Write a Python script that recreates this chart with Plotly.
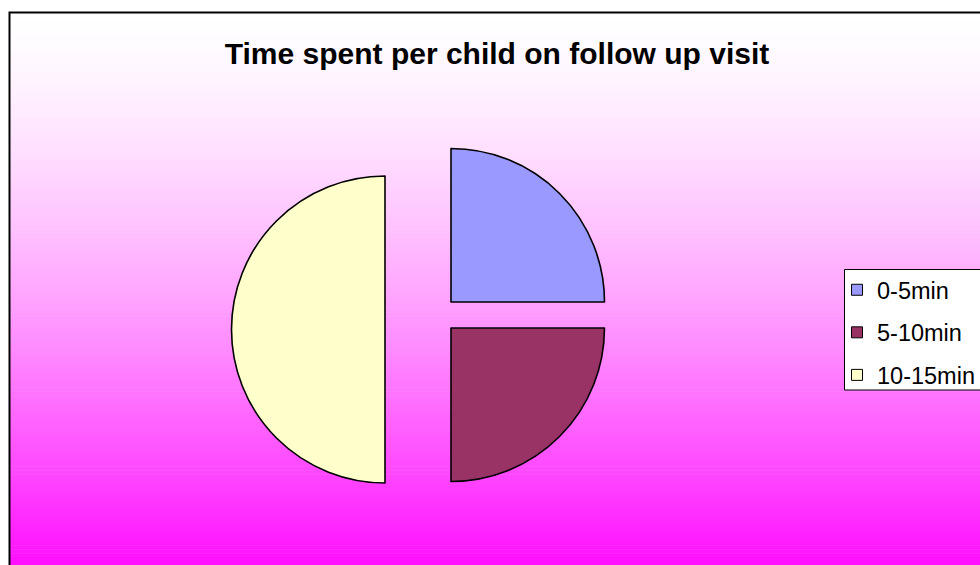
import plotly.graph_objects as go

# ---- data ----
labels = ["0-5min", "5-10min", "10-15min"]
values = [25, 25, 50]
colors = ["#9999FF", "#993366", "#FFFFCC"]
title_text = "Time spent per child on follow up visit"

# ---- layout geometry (pixels) ----
W, H = 980, 565
slice_centers = [(451, 302), (451, 328), (385, 329.5)]  # exploded slice centres
R = 153.5
FONT = "Liberation Sans, Arial, sans-serif"

fig = go.Figure()

# one pie per slice so each slice can be exploded independently
for i, (cx, cy) in enumerate(slice_centers):
    fills = [colors[j] if j == i else "rgba(0,0,0,0)" for j in range(len(labels))]
    widths = [1.6 if j == i else 0 for j in range(len(labels))]
    fig.add_trace(go.Pie(
        labels=labels, values=values, sort=False, direction="clockwise", rotation=0,
        marker=dict(colors=fills, line=dict(color="black", width=widths)),
        textinfo="none", showlegend=False, hoverinfo="label+percent",
        domain=dict(x=[(cx - R) / W, (cx + R) / W], y=[1 - (cy + R) / H, 1 - (cy - R) / H]),
    ))

# legend entries
for lab, col in zip(labels, colors):
    fig.add_trace(go.Scatter(
        x=[None], y=[None], mode="markers", name=lab, legendgroup=lab,
        marker=dict(symbol="square", size=11, color=col, line=dict(color="black", width=1)),
    ))

# gradient background stripes + chart border
shapes = []
top, bottom = 12, 565
n = 140
step = (bottom - top) / n
for k in range(n):
    t = (k + 0.5) / n
    g = int(round(255 - 240 * t ** 1.45))
    y0 = top + k * step
    y1 = min(y0 + step + 0.6, H)
    shapes.append(dict(type="rect", xref="paper", yref="paper", layer="below",
                       x0=9 / W, x1=1, y0=1 - y1 / H, y1=1 - y0 / H,
                       fillcolor=f"rgb(255,{g},255)", line=dict(width=0)))
shapes.append(dict(type="rect", xref="paper", yref="paper", layer="above",
                   x0=9.5 / W, x1=1.01, y0=-0.01, y1=1 - 12.5 / H,
                   line=dict(color="black", width=2), fillcolor="rgba(0,0,0,0)"))
# legend box (runs off the right edge like the original)
shapes.append(dict(type="rect", xref="paper", yref="paper", layer="above",
                   x0=844.5 / W, x1=1.01, y0=1 - 390 / H, y1=1 - 269.5 / H,
                   line=dict(color="black", width=1), fillcolor="white"))

fig.update_layout(
    width=W, height=H, margin=dict(l=0, r=0, t=0, b=0),
    paper_bgcolor="white", plot_bgcolor="rgba(0,0,0,0)",
    shapes=shapes,
    xaxis=dict(visible=False), yaxis=dict(visible=False),
    title=dict(text="<b>" + title_text + "</b>", x=497 / W, y=1 - 53 / H,
               xanchor="center", yanchor="middle",
               font=dict(family=FONT, size=30, color="black")),
    legend=dict(x=1, y=1 - 268 / H, xanchor="right", yanchor="top",
                bgcolor="rgba(0,0,0,0)", borderwidth=0,
                font=dict(family=FONT, size=23.5, color="black"),
                traceorder="grouped", tracegroupgap=9),
    showlegend=True,
)

fig.write_html("out.html")
